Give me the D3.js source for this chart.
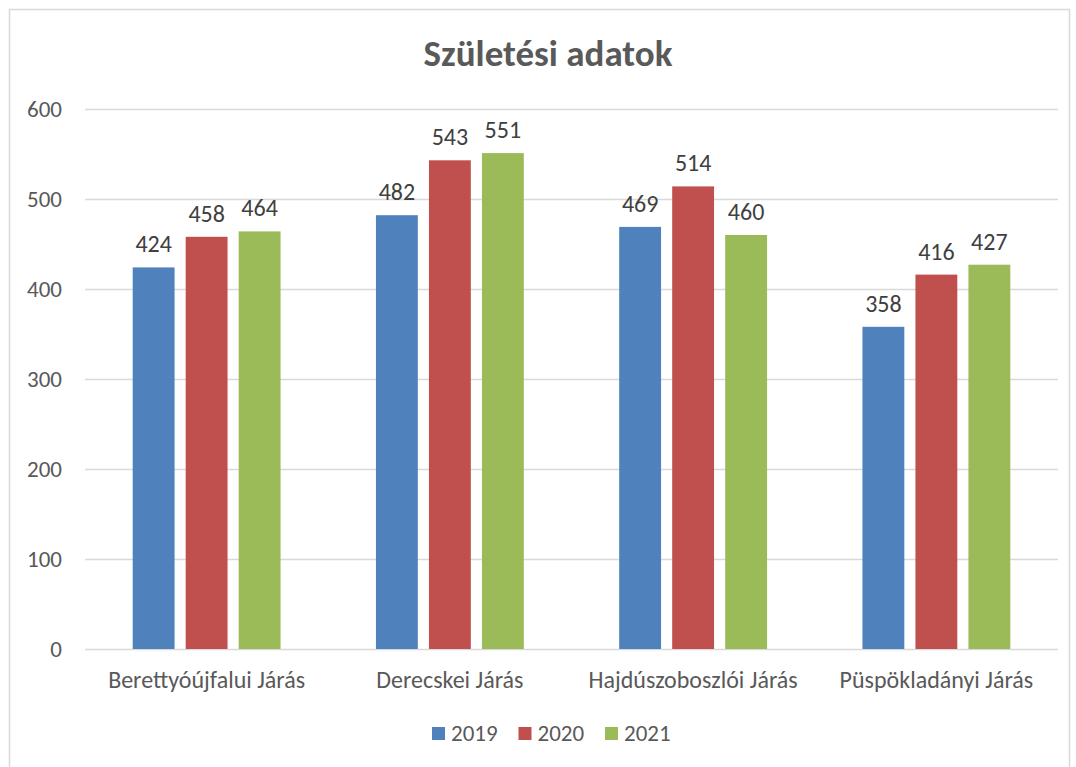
<!DOCTYPE html>
<html>
<head>
<meta charset="utf-8">
<script src="https://cdn.jsdelivr.net/npm/d3@7"></script>
<style>
  body { margin: 0; background: #fff; }
  svg { font-family: Calibri, "Noto Sans", sans-serif; }
</style>
</head>
<body>
<svg id="chart" width="1076" height="767"></svg>
<script>
// data
let categories = ["Berettyóújfalui Járás", "Derecskei Járás", "Hajdúszoboszlói Járás", "Püspökladányi Járás"]
let years = ["2019", "2020", "2021"]
let values2019 = [424, 482, 469, 358]
let values2020 = [458, 543, 514, 416]
let values2021 = [464, 551, 460, 427]
let yTicks = [0, 100, 200, 300, 400, 500, 600]
let colors = ["#4f81bd", "#c0504d", "#9bbb59"]

let series = [values2019, values2020, values2021]

let svg = d3.select('#chart')

// chart frame
svg.append('rect')
    .attr('x', 9.5).attr('y', 9.5)
    .attr('width', 1060).attr('height', 770)
    .attr('fill', '#fff')
    .attr('stroke', '#d9d9d9')
    .attr('stroke-width', 1.5)

let margin = {left: 85, right: 1058, top: 109, bottom: 649}

let x = d3.scaleBand()
    .domain(categories)
    .range([margin.left, margin.right])

let xInner = d3.scaleBand()
    .domain(years)
    .range([0, x.bandwidth()])
    .paddingInner(0.21)
    .paddingOuter(0.9)

let y = d3.scaleLinear()
    .domain([0, 600])
    .range([margin.bottom, margin.top])

// gridlines
svg.append('g')
    .selectAll('line')
    .data(yTicks)
    .enter()
    .append('line')
    .attr('x1', margin.left)
    .attr('x2', margin.right)
    .attr('y1', d => Math.round(y(d)) + 0.5)
    .attr('y2', d => Math.round(y(d)) + 0.5)
    .attr('stroke', '#d9d9d9')
    .attr('stroke-width', 1.5)

// y axis labels
svg.append('g')
    .selectAll('text')
    .data(yTicks)
    .enter()
    .append('text')
    .attr('x', 62)
    .attr('y', d => y(d))
    .attr('dy', '0.35em')
    .attr('text-anchor', 'end')
    .attr('font-size', 23)
    .attr('fill', '#595959')
    .text(d => d)

// bars
let groups = svg.append('g')
    .selectAll('g')
    .data(categories)
    .enter()
    .append('g')
    .attr('transform', d => `translate(${x(d)},0)`)

groups.selectAll('rect')
    .data((d, i) => years.map((yr, j) => ({year: yr, value: series[j][i], color: colors[j]})))
    .enter()
    .append('rect')
    .attr('x', d => xInner(d.year))
    .attr('width', xInner.bandwidth())
    .attr('y', d => y(d.value))
    .attr('height', d => y(0) - y(d.value))
    .attr('fill', d => d.color)

groups.selectAll('text')
    .data((d, i) => years.map((yr, j) => ({year: yr, value: series[j][i]})))
    .enter()
    .append('text')
    .attr('x', d => xInner(d.year) + xInner.bandwidth() / 2)
    .attr('y', d => y(d.value) - 15)
    .attr('text-anchor', 'middle')
    .attr('font-size', 24)
    .attr('fill', '#404040')
    .text(d => d.value)

// category labels
svg.append('g')
    .selectAll('text')
    .data(categories)
    .enter()
    .append('text')
    .attr('x', d => x(d) + x.bandwidth() / 2)
    .attr('y', 688)
    .attr('text-anchor', 'middle')
    .attr('font-size', 24)
    .attr('fill', '#595959')
    .text(d => d)

// title
svg.append('text')
    .attr('x', 548)
    .attr('y', 66)
    .attr('text-anchor', 'middle')
    .attr('font-size', 37)
    .attr('font-weight', 'bold')
    .attr('fill', '#595959')
    .text('Születési adatok')

// legend
let legendX = d3.scalePoint()
    .domain(years)
    .range([432, 605])

let legend = svg.append('g')
    .selectAll('g')
    .data(years)
    .enter()
    .append('g')
    .attr('transform', d => `translate(${legendX(d)},727)`)

legend.append('rect')
    .attr('width', 13).attr('height', 13)
    .attr('fill', (d, i) => colors[i])

legend.append('text')
    .attr('x', 19)
    .attr('y', 14)
    .attr('font-size', 23)
    .attr('fill', '#595959')
    .text(d => d)
</script>
</body>
</html>
